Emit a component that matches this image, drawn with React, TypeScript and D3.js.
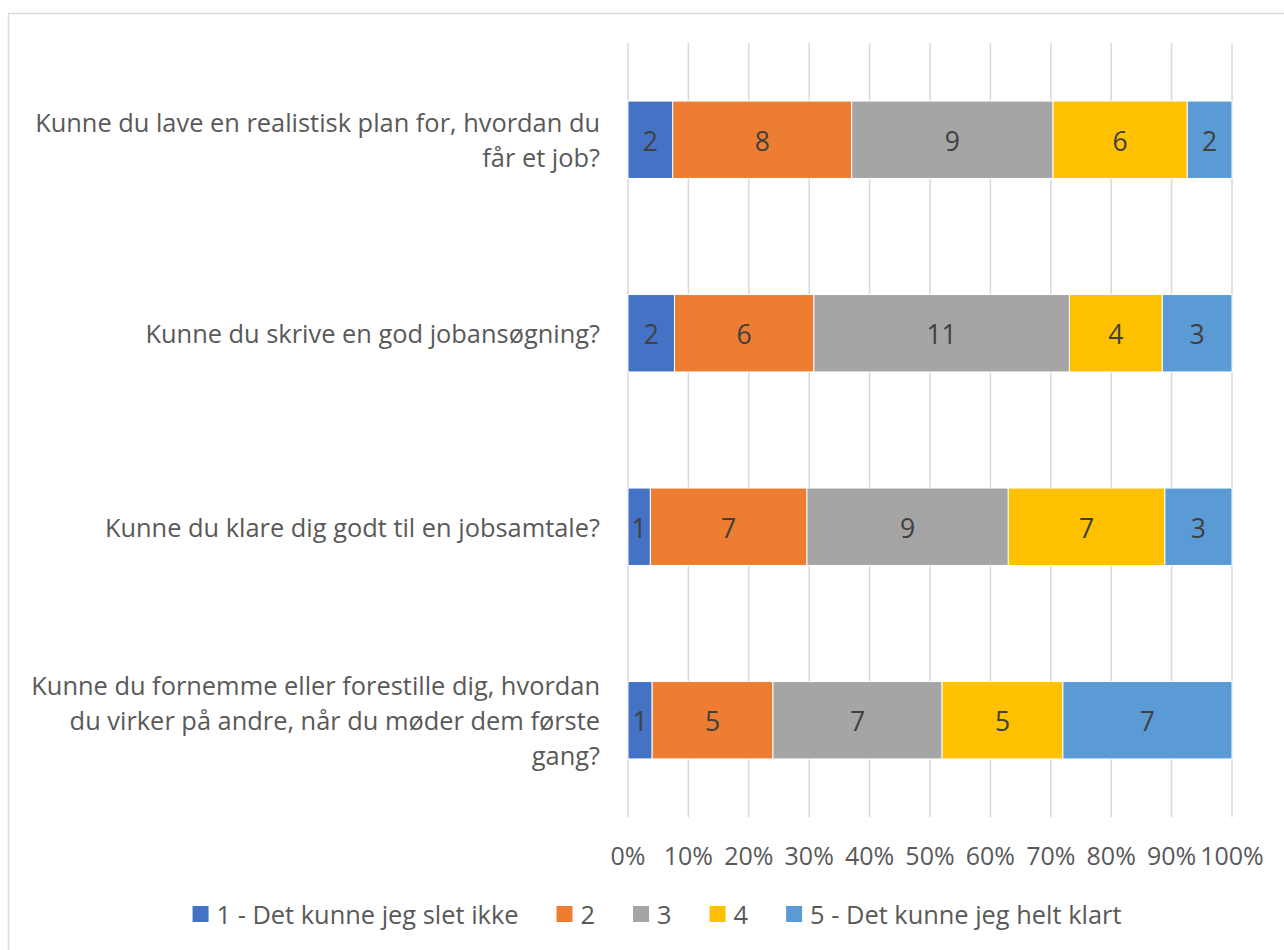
import React, { useEffect, useRef } from "react";
import * as d3 from "d3";

// questions (already split into the lines shown in the chart)
const questions = [
  ["Kunne du lave en realistisk plan for, hvordan du", "får et job?"],
  ["Kunne du skrive en god jobansøgning?"],
  ["Kunne du klare dig godt til en jobsamtale?"],
  ["Kunne du fornemme eller forestille dig, hvordan", "du virker på andre, når du møder dem første", "gang?"],
];

const seriesNames = ["1 - Det kunne jeg slet ikke", "2", "3", "4", "5 - Det kunne jeg helt klart"];
const seriesColors = ["#4472c4", "#ed7d31", "#a5a5a5", "#ffc000", "#5b9bd5"];

// counts per question, one array per answer level
const level1 = [2, 2, 1, 1];
const level2 = [8, 6, 7, 5];
const level3 = [9, 11, 9, 7];
const level4 = [6, 4, 7, 5];
const level5 = [2, 3, 3, 7];

const tickValues = [0, 0.1, 0.2, 0.3, 0.4, 0.5, 0.6, 0.7, 0.8, 0.9, 1];

const FONT = "'Open Sans', sans-serif";

const App = () => {
  const svgRef = useRef<SVGSVGElement>(null);

  useEffect(() => {
    const svg = d3.select(svgRef.current);
    svg.selectAll("*").remove();

    const W = 1284;
    const H = 950;
    const margin = { top: 43, right: 52, bottom: 133, left: 628 };
    const width = W - margin.left - margin.right;
    const height = H - margin.top - margin.bottom;

    // outer frame, as in the exported picture
    svg
      .append("rect")
      .attr("x", 8.5)
      .attr("y", 13.5)
      .attr("width", 1400)
      .attr("height", 1000)
      .attr("fill", "#fff")
      .attr("stroke", "#d9d9d9")
      .attr("stroke-width", 1.5);

    const rows = questions.map((q, i) => {
      const vals = [level1[i], level2[i], level3[i], level4[i], level5[i]];
      const total = d3.sum(vals);
      const obj: any = { key: i, total };
      vals.forEach((v, j) => (obj[j] = v / total));
      obj.raw = vals;
      return obj;
    });

    const stack = d3.stack<any>().keys(seriesNames.map((_, j) => String(j)));
    const layers = stack(rows);

    const x = d3.scaleLinear().domain([0, 1]).range([0, width]);
    const y = d3
      .scaleBand()
      .domain(questions.map((_, i) => String(i)))
      .range([0, height])
      .paddingInner(0.6)
      .paddingOuter(0.3);

    const g = svg.append("g").attr("transform", `translate(${margin.left},${margin.top})`);

    // gridlines
    g.append("g")
      .selectAll("line")
      .data(tickValues)
      .enter()
      .append("line")
      .attr("x1", (d) => x(d))
      .attr("x2", (d) => x(d))
      .attr("y1", 0)
      .attr("y2", height)
      .attr("stroke", "#d9d9d9")
      .attr("stroke-width", 1.5);

    // bars
    const layer = g
      .selectAll(".layer")
      .data(layers)
      .enter()
      .append("g")
      .attr("fill", (_, j) => seriesColors[j]);

    layer
      .selectAll("rect")
      .data((d) => d)
      .enter()
      .append("rect")
      .attr("x", (d) => x(d[0]))
      .attr("y", (d) => y(String(d.data.key))!)
      .attr("width", (d) => x(d[1]) - x(d[0]))
      .attr("height", y.bandwidth())
      .attr("stroke", "#fff")
      .attr("stroke-width", 1);

    // value labels
    layers.forEach((l, j) => {
      g.append("g")
        .selectAll("text")
        .data(l)
        .enter()
        .append("text")
        .attr("x", (d) => x((d[0] + d[1]) / 2))
        .attr("y", (d) => y(String(d.data.key))! + y.bandwidth() / 2 + 1)
        .attr("text-anchor", "middle")
        .attr("dominant-baseline", "central")
        .attr("font-family", FONT)
        .attr("font-size", 26.5)
        .attr("fill", "#404040")
        .text((d) => d.data.raw[j]);
    });

    // category labels
    const lineH = 35;
    questions.forEach((lines, i) => {
      const cy = y(String(i))! + y.bandwidth() / 2;
      const t = g
        .append("text")
        .attr("text-anchor", "end")
        .attr("font-family", FONT)
        .attr("font-size", 25.4)
        .attr("fill", "#595959");
      lines.forEach((ln, k) => {
        t.append("tspan")
          .attr("x", -28)
          .attr("y", cy + (k - (lines.length - 1) / 2) * lineH)
          .attr("dominant-baseline", "central")
          .text(ln);
      });
    });

    // x axis labels
    g.append("g")
      .selectAll("text")
      .data(tickValues)
      .enter()
      .append("text")
      .attr("x", (d) => x(d))
      .attr("y", height + 38)
      .attr("text-anchor", "middle")
      .attr("dominant-baseline", "central")
      .attr("font-family", FONT)
      .attr("font-size", 25)
      .attr("fill", "#595959")
      .text((d) => d3.format(".0%")(d));

    // legend
    const legend = svg.append("g");
    const items = seriesNames.map((name, j) => {
      const it = legend.append("g");
      it.append("rect").attr("width", 16).attr("height", 16).attr("y", -8).attr("fill", seriesColors[j]);
      const txt = it
        .append("text")
        .attr("x", 24)
        .attr("dominant-baseline", "central")
        .attr("font-family", FONT)
        .attr("font-size", 25.4)
        .attr("fill", "#595959")
        .text(name);
      const w = 24 + (txt.node() as SVGTextElement).getComputedTextLength();
      return { it, w };
    });
    const gap = 38;
    const totalW = d3.sum(items, (d) => d.w) + gap * (items.length - 1);
    let cx = 657 - totalW / 2;
    items.forEach(({ it, w }) => {
      it.attr("transform", `translate(${cx},914)`);
      cx += w + gap;
    });
  }, []);

  return <svg ref={svgRef} width={1284} height={950} style={{ display: "block", position: "absolute", left: 0, top: 0 }} />;
};

export default App;
